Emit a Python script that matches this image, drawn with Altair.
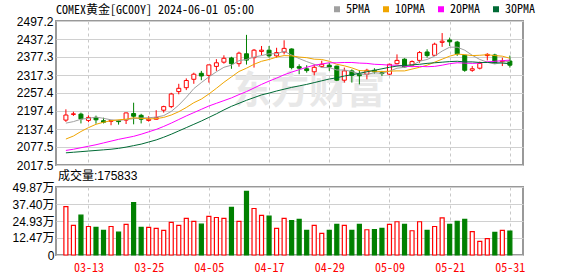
import altair as alt
import pandas as pd

dates = ["03-08", "03-11", "03-12", "03-13", "03-14", "03-15", "03-18", "03-19", "03-20", "03-21",
         "03-22", "03-25", "03-26", "03-27", "03-28", "04-01", "04-02", "04-03", "04-04", "04-05",
         "04-08", "04-09", "04-10", "04-11", "04-12", "04-15", "04-16", "04-17", "04-18", "04-19",
         "04-22", "04-23", "04-24", "04-25", "04-26", "04-29", "04-30", "05-01", "05-02", "05-03",
         "05-06", "05-07", "05-08", "05-09", "05-10", "05-13", "05-14", "05-15", "05-16", "05-17",
         "05-20", "05-21", "05-22", "05-23", "05-24", "05-27", "05-28", "05-29", "05-30", "05-31"]

opens = [2167, 2186, 2187, 2166, 2176, 2165, 2163, 2165, 2167, 2189,
         2183, 2166, 2170, 2200, 2212, 2262, 2275, 2303, 2323, 2316,
         2346, 2360, 2374, 2355, 2388, 2375, 2396, 2400, 2381, 2394,
         2404, 2345, 2338, 2328, 2346, 2350, 2347, 2300, 2331, 2320,
         2320, 2333, 2325, 2320, 2355, 2370, 2350, 2366, 2394, 2383,
         2426, 2434, 2427, 2383, 2333, 2340, 2382, 2384, 2362, 2364]
closes = [2184, 2188, 2171, 2176, 2168, 2160, 2166, 2162, 2191, 2180,
          2170, 2170, 2176, 2212, 2254, 2273, 2299, 2320, 2314, 2351,
          2358, 2373, 2355, 2390, 2367, 2400, 2400, 2381, 2392, 2406,
          2342, 2340, 2332, 2343, 2353, 2344, 2300, 2331, 2316, 2315,
          2333, 2328, 2322, 2353, 2366, 2344, 2362, 2392, 2382, 2420,
          2430, 2428, 2388, 2333, 2338, 2356, 2386, 2358, 2364, 2350]
highs = [2203, 2195, 2192, 2183, 2182, 2175, 2167, 2168, 2192, 2225,
         2188, 2180, 2200, 2215, 2258, 2288, 2306, 2325, 2331, 2351,
         2370, 2383, 2378, 2395, 2451, 2404, 2414, 2414, 2408, 2433,
         2406, 2353, 2350, 2353, 2365, 2358, 2348, 2342, 2336, 2334,
         2338, 2340, 2331, 2355, 2386, 2373, 2366, 2397, 2403, 2425,
         2457, 2442, 2431, 2384, 2347, 2362, 2390, 2388, 2375, 2382]
lows = [2161, 2181, 2156, 2160, 2155, 2156, 2150, 2152, 2154, 2153,
        2156, 2162, 2169, 2192, 2207, 2253, 2267, 2288, 2300, 2292,
        2331, 2355, 2338, 2345, 2352, 2342, 2383, 2375, 2375, 2386,
        2336, 2320, 2325, 2316, 2342, 2331, 2297, 2292, 2292, 2286,
        2303, 2322, 2314, 2317, 2353, 2342, 2345, 2358, 2375, 2381,
        2411, 2414, 2381, 2328, 2328, 2336, 2366, 2355, 2347, 2342]
# volume in 万 (10k lots)
vols = [35.5, 21.7, 29.2, 20.9, 20.2, 18.0, 20.9, 16.8, 22.4, 38.5,
        20.2, 20.2, 19.5, 18.0, 23.9, 21.7, 26.8, 24.6, 22.6, 28.3,
        27.5, 26.8, 35.0, 24.6, 46.7, 34.1, 29.0, 28.5, 19.5, 26.8,
        25.3, 26.1, 18.0, 21.7, 15.8, 18.0, 22.4, 21.7, 18.0, 22.4,
        18.5, 18.7, 19.5, 22.4, 24.4, 22.4, 17.8, 24.4, 18.0, 20.9,
        27.3, 22.4, 24.6, 26.1, 17.1, 10.0, 12.0, 16.6, 18.0, 17.58]

ma5 = [2157, 2162, 2170, 2173, 2177, 2173, 2168, 2166, 2169, 2172,
       2174, 2175, 2177, 2182, 2196, 2217, 2243, 2272, 2292, 2311,
       2328, 2343, 2350, 2365, 2369, 2377, 2382, 2388, 2388, 2396,
       2384, 2372, 2362, 2353, 2342, 2342, 2334, 2334, 2329, 2321,
       2319, 2325, 2323, 2330, 2340, 2343, 2349, 2363, 2369, 2380,
       2397, 2410, 2410, 2400, 2383, 2369, 2360, 2354, 2360, 2363]
ma10 = [2104, 2114, 2129, 2142, 2153, 2160, 2165, 2168, 2170, 2175,
        2173, 2171, 2172, 2176, 2184, 2195, 2209, 2225, 2237, 2254,
        2273, 2293, 2311, 2329, 2340, 2353, 2363, 2369, 2377, 2382,
        2381, 2377, 2375, 2370, 2369, 2363, 2353, 2348, 2341, 2332,
        2331, 2330, 2329, 2330, 2331, 2331, 2337, 2343, 2350, 2360,
        2370, 2380, 2387, 2385, 2382, 2383, 2385, 2382, 2380, 2373]
ma20 = [2066, 2070, 2075, 2080, 2085, 2091, 2097, 2103, 2108, 2113,
        2120, 2128, 2136, 2146, 2157, 2169, 2181, 2192, 2203, 2214,
        2223, 2232, 2241, 2252, 2262, 2274, 2286, 2297, 2307, 2318,
        2327, 2335, 2343, 2350, 2354, 2358, 2358, 2359, 2359, 2357,
        2356, 2353, 2352, 2350, 2350, 2347, 2345, 2346, 2345, 2346,
        2350, 2355, 2358, 2357, 2356, 2357, 2361, 2363, 2365, 2367]
ma30 = [2058, 2060, 2062, 2064, 2066, 2068, 2070, 2073, 2077, 2082,
        2087, 2094, 2101, 2110, 2120, 2131, 2142, 2153, 2164, 2176,
        2188, 2201, 2213, 2223, 2233, 2242, 2251, 2257, 2264, 2270,
        2276, 2281, 2286, 2292, 2298, 2304, 2308, 2314, 2318, 2323,
        2328, 2333, 2338, 2343, 2347, 2349, 2351, 2353, 2356, 2358,
        2360, 2362, 2363, 2361, 2361, 2359, 2359, 2358, 2357, 2355]

ma_names = ["5PMA", "10PMA", "20PMA", "30PMA"]
ma_colors = ["#A0A0A0", "#F0A500", "#FF00FF", "#006A35"]
price_ticks = [2017.5, 2077.5, 2137.4, 2197.4, 2257.4, 2317.3, 2377.3, 2437.2, 2497.2]
vol_ticks = [0, 12.47, 24.93, 37.40, 49.87]
label_idx = [3, 11, 19, 27, 35, 43, 51, 59]

RED = "#FF0000"
GREEN = "#008000"
MONO = "Noto Sans Mono CJK SC, Liberation Mono, monospace"
SANS = "Liberation Sans, Noto Sans CJK SC, sans-serif"

n = len(dates)
df = pd.DataFrame({"i": list(range(n)), "date": dates, "open": opens, "close": closes,
                   "high": highs, "low": lows, "vol": vols})
ma_rows = []
for name, series in zip(ma_names, [ma5, ma10, ma20, ma30]):
    for k, v in enumerate(series):
        ma_rows.append({"i": k, "ma": name, "value": v})
ma_df = pd.DataFrame(ma_rows)

up = "datum.close >= datum.open"
x_scale = alt.Scale(domain=[-0.65, 60.08], nice=False, zero=False)
label_expr = "[" + ",".join("'%s'" % d for d in dates) + "][datum.value]"

x_top = alt.X("i:Q", scale=x_scale,
              axis=alt.Axis(values=label_idx, labels=False, ticks=False, domain=False,
                            grid=True, gridDash=[3, 3], gridColor="#C8C8C8", title=None,
                            minExtent=0, maxExtent=0))
y_scale = alt.Scale(domain=[2017.5, 2497.2], nice=False, zero=False)
y_axis = alt.Axis(values=price_ticks, format=".1f", title=None, ticks=False, domain=False,
                  grid=True, gridColor="#D0D0D0", labelPadding=3, minExtent=55, maxExtent=55,
                  labelFont=SANS, labelFontSize=12, labelColor="#000000")

base = alt.Chart(df)
watermark = alt.Chart(pd.DataFrame({"t": ["东方财富"]})).mark_text(
    font="Noto Sans CJK SC", fontSize=38, fontWeight="bold", color="#E8E8E8"
).encode(text="t:N", x=alt.value(253), y=alt.value(71))

wick = base.mark_rule(strokeWidth=1).encode(
    x=x_top, y=alt.Y("low:Q", scale=y_scale, axis=y_axis), y2="high:Q",
    color=alt.condition(up, alt.value(RED), alt.value(GREEN)))
body = base.mark_bar(size=4, strokeWidth=1).encode(
    x=x_top, y=alt.Y("open:Q", scale=y_scale, axis=y_axis), y2="close:Q",
    fill=alt.condition(up, alt.value("#FFFFFF"), alt.value(GREEN)),
    stroke=alt.condition(up, alt.value(RED), alt.value(GREEN)))
lines = alt.Chart(ma_df).mark_line(strokeWidth=1).encode(
    x=x_top, y=alt.Y("value:Q", scale=y_scale, axis=y_axis),
    color=alt.Color("ma:N", scale=alt.Scale(domain=ma_names, range=ma_colors),
                    legend=alt.Legend(title=None, orient="none", legendX=275, legendY=-18,
                                      direction="horizontal", symbolType="square",
                                      symbolSize=9, symbolStrokeWidth=3, padding=0,
                                      labelFont=MONO, labelFontSize=12, labelColor="#000000",
                                      columnPadding=7, labelOffset=3)),
    detail="ma:N")

top = alt.layer(watermark, wick, body, lines).properties(
    width=467, height=144,
    title=alt.Title("COMEX黄金[GC00Y] 2024-06-01 05:00", anchor="start", frame="group",
                    font=MONO, fontSize=12, fontWeight="normal", color="#000000", offset=-2))

x_bot = alt.X("i:Q", scale=x_scale,
              axis=alt.Axis(values=label_idx, labelExpr=label_expr, ticks=False, domain=False,
                            grid=True, gridDash=[3, 3], gridColor="#C8C8C8", title=None,
                            labelColor=RED, labelFont=MONO, labelFontSize=12, labelPadding=7,
                            labelFlush=False))
vol_axis = alt.Axis(values=vol_ticks,
                    labelExpr="datum.value == 0 ? '0' : format(datum.value, '.2f') + '万'",
                    title=None, ticks=False, domain=False, grid=True, gridColor="#D0D0D0",
                    labelPadding=2, minExtent=55, maxExtent=55, labelFont=SANS,
                    labelFontSize=12, labelColor="#000000")
volume = base.mark_bar(size=4, strokeWidth=1.2).encode(
    x=x_bot, y=alt.Y("vol:Q", scale=alt.Scale(domain=[0, 49.87], nice=False), axis=vol_axis),
    fill=alt.condition(up, alt.value("#FFFFFF"), alt.value(GREEN)),
    stroke=alt.condition(up, alt.value(RED), alt.value(GREEN))
).properties(
    width=467, height=68,
    title=alt.Title("成交量:175833", anchor="start", frame="group", font=SANS, fontSize=12,
                    fontWeight="normal", color="#000000", offset=-2, dx=2))

chart = alt.vconcat(top, volume, spacing=22, bounds="flush").properties(
    padding={"left": 0, "top": 3, "right": 0, "bottom": 0},
    background="#FFFFFF"
).configure_view(stroke="#999999", strokeWidth=2)

chart.save("out.html", embed_options={"renderer": "svg", "actions": False})
